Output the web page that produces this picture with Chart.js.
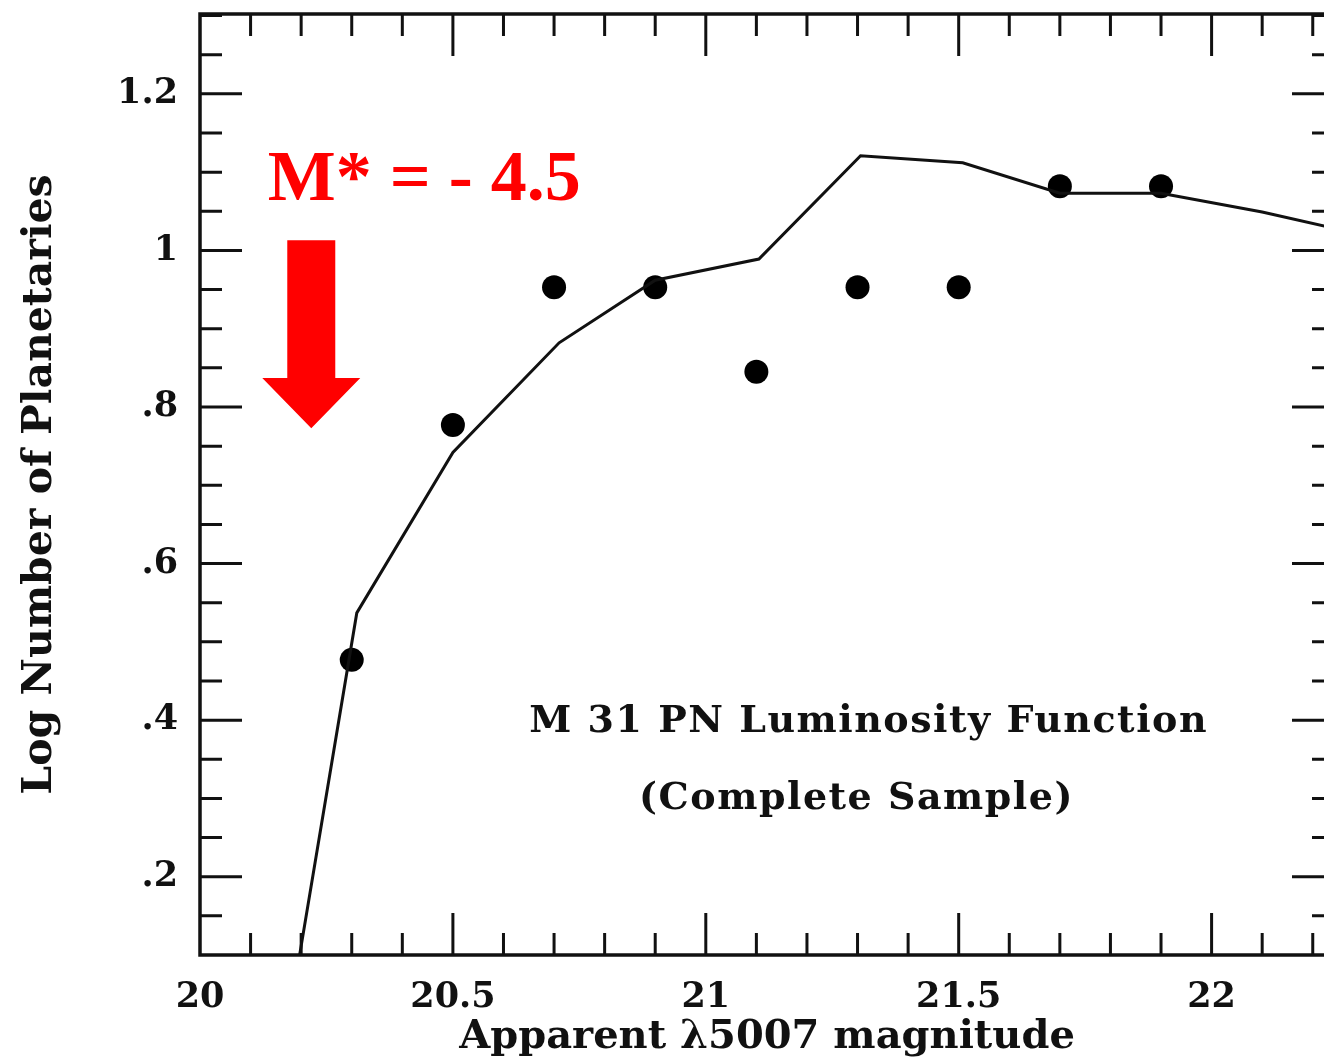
<!DOCTYPE html>
<html><head><meta charset="utf-8">
<script src="https://cdn.jsdelivr.net/npm/chart.js@4"></script>
<style>
html,body{margin:0;padding:0;background:#fff;overflow:hidden;}
#wrap{width:1324px;height:1064px;overflow:hidden;position:relative;background:#fff;}
#c{position:absolute;left:0;top:0;}
</style></head><body>
<div id="wrap"><canvas id="c" width="1346" height="1064"></canvas></div>
<script>
// ---- data ----
const dotMag  = [20.3, 20.5, 20.7, 20.9, 21.1, 21.3, 21.5, 21.7, 21.9];
const dotLogN = [0.477, 0.777, 0.953, 0.953, 0.845, 0.953, 0.953, 1.082, 1.082];
const modelMag  = [20.197, 20.31, 20.5, 20.71, 20.9, 21.105, 21.306, 21.508, 21.7, 21.9, 22.1, 22.3];
const modelLogN = [0.1, 0.537, 0.742, 0.882, 0.962, 0.989, 1.121, 1.112, 1.073, 1.073, 1.049, 1.02];
const xTickValues = [20, 20.5, 21, 21.5, 22];
const xTickLabels = ['20', '20.5', '21', '21.5', '22'];
const yTickValues = [0.2, 0.4, 0.6, 0.8, 1.0, 1.2];
const yTickLabels = ['.2', '.4', '.6', '.8', '1', '1.2'];
const xTitle = 'Apparent \u03bb5007 magnitude';
const yTitle = 'Log Number of Planetaries';
const plotLabel1 = 'M 31 PN Luminosity Function';
const plotLabel2 = '(Complete Sample)';
const cutoffLabel = 'M* = - 4.5';
const cutoffMag = 20.22;

const FONT = '"DejaVu Serif", serif';

const framePlugin = {
  id: 'frame',
  afterDraw(chart) {
    const ctx = chart.ctx, a = chart.chartArea;
    const xs = chart.scales.x, ys = chart.scales.y;
    ctx.save();
    ctx.strokeStyle = '#111';
    ctx.lineCap = 'butt';
    // frame
    ctx.lineWidth = 3.5;
    ctx.strokeRect(a.left, a.top, a.right - a.left, a.bottom - a.top);
    ctx.lineWidth = 3;
    // x ticks every 0.1, major every 0.5
    for (let i = 1; i * 0.1 + 20 < xs.max; i++) {
      const v = 20 + i * 0.1;
      const p = xs.getPixelForValue(v);
      const len = (i % 5 === 0) ? 42 : 22;
      ctx.beginPath();
      ctx.moveTo(p, a.bottom); ctx.lineTo(p, a.bottom - len);
      ctx.moveTo(p, a.top); ctx.lineTo(p, a.top + len);
      ctx.stroke();
    }
    // y ticks every 0.05, major every 0.2
    for (let i = 3; i * 0.05 < ys.max; i++) {
      const v = i * 0.05;
      const p = ys.getPixelForValue(v);
      const len = (i % 4 === 0) ? 42 : 22;
      ctx.beginPath();
      ctx.moveTo(a.left, p); ctx.lineTo(a.left + len, p);
      ctx.moveTo(a.right, p); ctx.lineTo(a.right - len, p);
      ctx.stroke();
    }
    // labels inside plot
    ctx.fillStyle = '#111';
    ctx.font = 'bold 38px ' + FONT;
    ctx.letterSpacing = '1.5px';
    ctx.textAlign = 'center';
    ctx.textBaseline = 'alphabetic';
    ctx.fillText(plotLabel1, xs.getPixelForValue(21.322), ys.getPixelForValue(0.385));
    ctx.fillText(plotLabel2, xs.getPixelForValue(21.298), ys.getPixelForValue(0.287));
    ctx.letterSpacing = '0px';
    // red cutoff label and arrow
    ctx.fillStyle = '#ff0000';
    ctx.font = 'bold 72px "Liberation Serif", "Times New Roman", serif';
    ctx.textAlign = 'left';
    ctx.fillText(cutoffLabel, xs.getPixelForValue(20.134), ys.getPixelForValue(1.065));
    const tx = xs.getPixelForValue(cutoffMag);
    const tipY = ys.getPixelForValue(0.773);
    const headY = ys.getPixelForValue(0.837);
    const topY = ys.getPixelForValue(1.013);
    ctx.beginPath();
    ctx.moveTo(tx - 24, topY);
    ctx.lineTo(tx + 24, topY);
    ctx.lineTo(tx + 24, headY);
    ctx.lineTo(tx + 49, headY);
    ctx.lineTo(tx, tipY);
    ctx.lineTo(tx - 49, headY);
    ctx.lineTo(tx - 24, headY);
    ctx.closePath();
    ctx.fill();
    ctx.restore();
  }
};

new Chart(document.getElementById('c'), {
  data: {
    datasets: [
      {
        type: 'line',
        data: modelMag.map((m, i) => ({x: m, y: modelLogN[i]})),
        borderColor: '#111',
        borderWidth: 3,
        pointRadius: 0,
        tension: 0,
        fill: false
      },
      {
        type: 'scatter',
        data: dotMag.map((m, i) => ({x: m, y: dotLogN[i]})),
        backgroundColor: '#000',
        borderColor: '#000',
        borderWidth: 0,
        pointRadius: 12,
        pointStyle: 'circle'
      }
    ]
  },
  options: {
    responsive: false,
    animation: false,
    devicePixelRatio: 1,
    layout: {padding: {left: 0, top: 14, right: 0, bottom: 0}},
    plugins: {legend: {display: false}, tooltip: {enabled: false}},
    scales: {
      x: {
        type: 'linear', position: 'bottom',
        min: 20, max: 22.242,
        afterBuildTicks: s => { s.ticks = xTickValues.map(v => ({value: v})); },
        afterFit: s => { s.height = 109; s.paddingLeft = 0; s.paddingRight = 0; },
        grid: {display: false, drawTicks: false},
        border: {display: false},
        ticks: {
          padding: 22, color: '#111',
          font: {family: FONT, size: 35, weight: 'bold'},
          maxRotation: 0, autoSkip: false,
          callback: (v, i) => xTickLabels[i]
        },
        title: {
          display: true, text: xTitle, color: '#111',
          font: {family: FONT, size: 40, weight: 'bold'},
          padding: {top: 0, bottom: 2}
        }
      },
      y: {
        type: 'linear', position: 'left',
        min: 0.1, max: 1.302,
        afterBuildTicks: s => { s.ticks = yTickValues.map(v => ({value: v})); },
        afterFit: s => { s.width = 200; s.paddingTop = 0; s.paddingBottom = 0; },
        grid: {display: false, drawTicks: false},
        border: {display: false},
        ticks: {
          padding: 22, color: '#111',
          font: {family: FONT, size: 35, weight: 'bold'},
          autoSkip: false,
          callback: (v, i) => yTickLabels[i]
        },
        title: {
          display: true, text: yTitle, color: '#111',
          font: {family: FONT, size: 41, weight: 'bold'},
          padding: {top: 16, bottom: 0}
        }
      }
    }
  },
  plugins: [framePlugin]
});
</script>
</body></html>
